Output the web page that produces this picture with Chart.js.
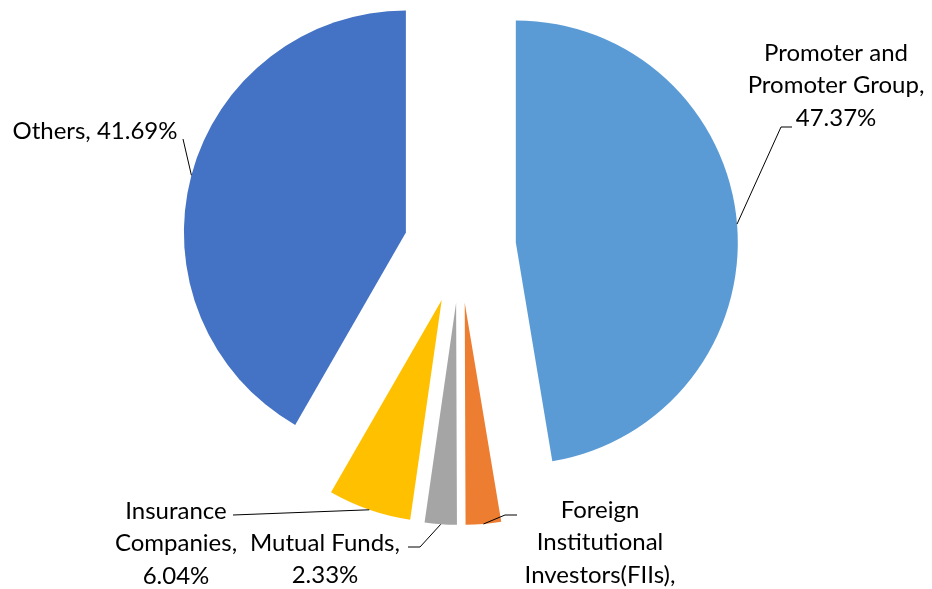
<!DOCTYPE html>
<html>
<head>
<meta charset="utf-8">
<script src="https://cdn.jsdelivr.net/npm/chart.js@4.4.0/dist/chart.umd.min.js"></script>
<style>
  html, body { margin: 0; padding: 0; background: #fff; }
  #wrap { width: 932px; height: 589px; }
</style>
</head>
<body>
<div id="wrap"><canvas id="pie"></canvas></div>
<script>
// data, in the order the slices run clockwise from 12 o'clock
const categories = ['Promoter and Promoter Group', 'Foreign Institutional Investors(FIIs)', 'Mutual Funds', 'Insurance Companies', 'Others'];
const shares = [47.37, 2.57, 2.33, 6.04, 41.69];
const sliceColors = ['#5B9BD5', '#ED7D31', '#A5A5A5', '#FFC000', '#4472C4'];
// label text, {v} is replaced by the share
const labelTexts = [
    'Promoter and\nPromoter Group,\n{v}',
    'Foreign\nInstitutional\nInvestors(FIIs),\n{v}',
    'Mutual Funds,\n{v}',
    'Insurance\nCompanies,\n{v}',
    'Others, {v}'
];

// where the labels sit and how the leader line bends (layout only)
const labelLayout = [
    { cx: 836, y: 53, leader: [[781, 127], [792, 127]] },
    { cx: 600, y: 510, leader: [[505, 515], [517, 515]] },
    { cx: 325, y: 543, leader: [[420, 547], [408, 547]] },
    { cx: 176, y: 511, leader: [[233, 515]] },
    { cx: 95, y: 131, leader: [[183, 139]] }
];

const EXPLODE = 56;
const LINE_H = 32.5;

// pull every slice out from the centre along its middle angle
const explodePlugin = {
    id: 'explode',
    beforeDatasetDraw(chart, args) {
        const ctx = chart.ctx;
        args.meta.data.forEach(arc => {
            const mid = (arc.startAngle + arc.endAngle) / 2;
            ctx.save();
            ctx.translate(Math.cos(mid) * EXPLODE, Math.sin(mid) * EXPLODE);
            arc.draw(ctx, chart.chartArea);
            ctx.restore();
        });
        return false;
    }
};

const labelPlugin = {
    id: 'sliceLabels',
    afterDraw(chart) {
        const ctx = chart.ctx;
        const arcs = chart.getDatasetMeta(0).data;
        ctx.save();
        ctx.font = '24px Lato';
        ctx.fillStyle = '#000';
        ctx.strokeStyle = '#000';
        ctx.lineWidth = 1;
        ctx.textAlign = 'center';
        ctx.textBaseline = 'middle';
        arcs.forEach((arc, i) => {
            const mid = (arc.startAngle + arc.endAngle) / 2;
            const r = EXPLODE + arc.outerRadius;
            const ax = arc.x + Math.cos(mid) * r;
            const ay = arc.y + Math.sin(mid) * r;
            const lay = labelLayout[i];
            ctx.beginPath();
            ctx.moveTo(ax, ay);
            lay.leader.forEach(p => ctx.lineTo(p[0], p[1]));
            ctx.stroke();
            const lines = labelTexts[i].replace('{v}', shares[i].toFixed(2) + '%').split('\n');
            lines.forEach((t, k) => ctx.fillText(t, lay.cx, lay.y + k * LINE_H));
        });
        ctx.restore();
    }
};

const ctx = document.getElementById('pie').getContext('2d');
new Chart(ctx, {
    type: 'pie',
    data: {
        labels: categories,
        datasets: [{
            data: shares,
            backgroundColor: sliceColors,
            borderWidth: 0,
            hoverOffset: 0,
            radius: 222
        }]
    },
    options: {
        responsive: true,
        maintainAspectRatio: false,
        animation: false,
        layout: { padding: { left: 0, top: 0, right: 12, bottom: 95 } },
        plugins: {
            legend: { display: false },
            tooltip: { enabled: false }
        }
    },
    plugins: [explodePlugin, labelPlugin]
});
</script>
</body>
</html>
